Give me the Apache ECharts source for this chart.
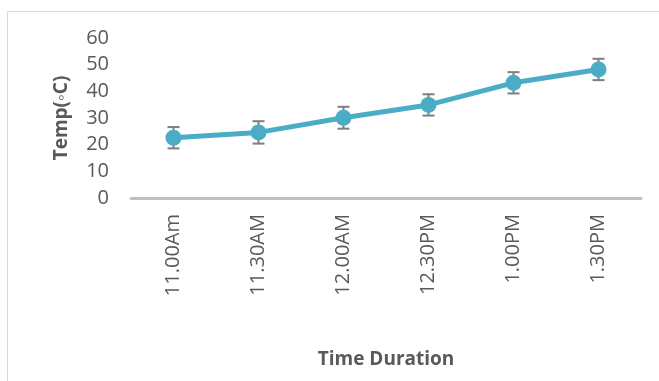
<!DOCTYPE html>
<html>
<head>
<meta charset="utf-8">
<script src="https://cdn.jsdelivr.net/npm/echarts@6/dist/echarts.min.js"></script>
<style>
  html, body { margin: 0; padding: 0; background: #fff; }
  #chart { width: 659px; height: 381px; }
</style>
</head>
<body>
<div id="chart"></div>
<script>
const categories = ["11.00Am", "11.30AM", "12.00AM", "12.30PM", "1.00PM", "1.30PM"];
const tempValues = [22.6, 24.6, 30.1, 34.9, 43.2, 48.2];
const tempErrors = [4, 4.2, 4.1, 4, 4, 4];
const yTicks = [0, 10, 20, 30, 40, 50, 60];

const chart = echarts.init(document.getElementById("chart"));
const font = "'Open Sans', 'Noto Sans', sans-serif";

// error bar: vertical line + caps
const errorData = tempValues.map((v, i) => [i, v - tempErrors[i], v + tempErrors[i]]);

const option = {
  animation: false,
  graphic: [
    {
      type: "polyline",
      shape: { points: [[7.5, 400], [7.5, 11.5], [700, 11.5]] },
      style: { stroke: "#d9d9d9", lineWidth: 1, fill: null },
      silent: true,
    },
  ],
  grid: { left: 131, right: 18, top: 38, bottom: 183 },
  xAxis: {
    type: "category",
    data: categories,
    boundaryGap: true,
    axisLine: { lineStyle: { color: "#bfbfbf", width: 3 } },
    axisTick: { show: false },
    axisLabel: {
      rotate: 90,
      color: "#595959",
      fontSize: 20,
      fontFamily: font,
      margin: 16,
    },
    name: "Time Duration",
    nameLocation: "middle",
    nameGap: 152,
    nameTextStyle: { color: "#595959", fontSize: 19, fontWeight: "bold", fontFamily: font },
  },
  yAxis: {
    type: "value",
    min: yTicks[0],
    max: yTicks[yTicks.length - 1],
    interval: 10,
    axisLine: { show: false },
    axisTick: { show: false },
    splitLine: { show: false },
    axisLabel: { color: "#595959", fontSize: 20, fontFamily: font, margin: 22 },
    name: "Temp(◦C)",
    nameLocation: "middle",
    nameGap: 60,
    nameTextStyle: { color: "#595959", fontSize: 19, fontWeight: "bold", fontFamily: font },
  },
  series: [
    {
      type: "line",
      data: tempValues,
      symbol: "circle",
      symbolSize: 16,
      lineStyle: { color: "#4bacc6", width: 5 },
      itemStyle: { color: "#4bacc6" },
      z: 3,
    },
    {
      type: "custom",
      data: errorData,
      z: 2,
      renderItem: function (params, api) {
        const x = api.value(0);
        const lo = api.coord([x, api.value(1)]);
        const hi = api.coord([x, api.value(2)]);
        const half = 6;
        const style = { stroke: "#7f7f7f", lineWidth: 2 };
        return {
          type: "group",
          children: [
            { type: "line", shape: { x1: lo[0], y1: lo[1], x2: hi[0], y2: hi[1] }, style: style },
            { type: "line", shape: { x1: lo[0] - half, y1: lo[1], x2: lo[0] + half, y2: lo[1] }, style: style },
            { type: "line", shape: { x1: hi[0] - half, y1: hi[1], x2: hi[0] + half, y2: hi[1] }, style: style },
          ],
        };
      },
    },
  ],
};
chart.setOption(option);
</script>
</body>
</html>
